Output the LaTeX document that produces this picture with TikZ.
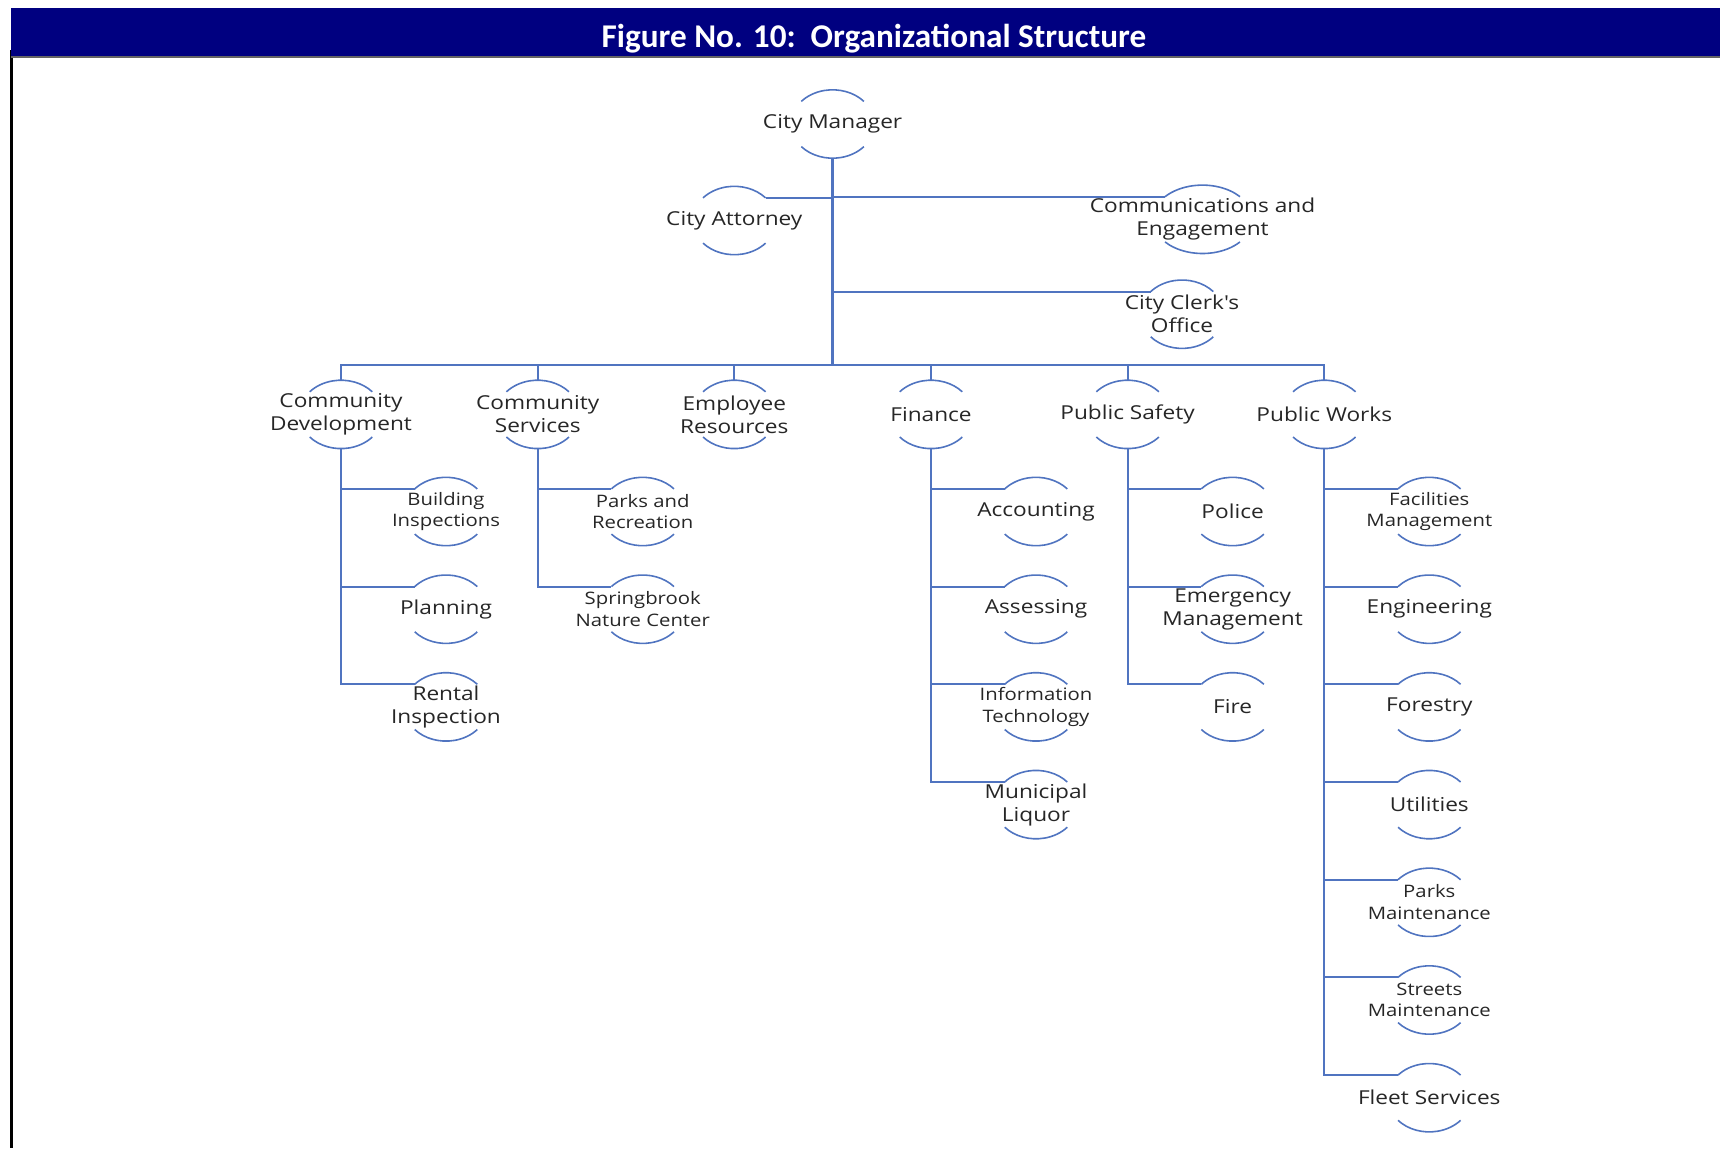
\documentclass[tikz,border=0pt]{standalone}
\usepackage{fontspec}
\setmainfont{Open Sans}[FakeStretch=1.18, Ligatures=TeXOff]
\newfontfamily\titlefont{Carlito}
\definecolor{navybar}{RGB}{0,0,128}
\definecolor{lineblue}{RGB}{80,116,192}
\definecolor{txtgray}{RGB}{38,38,38}
\definecolor{barshadow}{RGB}{100,100,100}
\tikzset{
  lbl/.style={inner sep=0pt, align=center, text=txtgray, font=\fontsize{9.6}{11.5}\selectfont},
  small/.style={font=\fontsize{8.6}{10.8}\selectfont},
  normal/.style={},
  arcline/.style={draw=lineblue, line width=0.8pt},
  conn/.style={draw=lineblue, line width=1pt},
  trunk/.style={draw=lineblue, line width=1.4pt},
  titletext/.style={inner sep=0pt, text=white, font=\titlefont\bfseries\fontsize{16.6}{19}\selectfont},
}
% #1 x radius, #2 name, #3 style, #4 x, #5 y, #6 text
\newcommand\orgnode[6][41.7]{%
  \node[lbl,#3] (#2) at (#4,#5) {#6};
  \coordinate (#2-c) at (#4,#5);
  \coordinate (#2-top) at ([shift={(90:#1 and 34.2)}]#2-c);
  \coordinate (#2-bot) at ([shift={(270:#1 and 34.2)}]#2-c);
  \coordinate (#2-tl) at ([shift={(138.6:#1 and 34.2)}]#2-c);
  \coordinate (#2-tr) at ([shift={(41.4:#1 and 34.2)}]#2-c);
  \coordinate (#2-bl) at ([shift={(221.4:#1 and 34.2)}]#2-c);
  \draw[arcline] (#2-tr) arc[start angle=41.4, end angle=138.6, x radius=#1, y radius=34.2];
  \draw[arcline] (#2-bl) arc[start angle=221.4, end angle=318.6, x radius=#1, y radius=34.2];
}
\begin{document}
\begin{tikzpicture}[x=0.5pt,y=0.5pt]
\useasboundingbox (0,0) rectangle (1720,-1148);
% frame and banner
\fill[black] (10,-50) rectangle (12.5,-1148);
\fill[navybar] (11,-8) rectangle (1720,-56);
\fill[barshadow] (11,-56) rectangle (1720,-57.5);
\node[titletext, anchor=base] (title) at (874,-47.5) {Figure No. 10:\hspace{0.45em}Organizational Structure};

% top levels
\orgnode{cm}{normal}{832.6}{-124}{City Manager}
\orgnode{ca}{normal}{734.3}{-220.5}{City Attorney}
\orgnode[50]{ce}{normal}{1202.5}{-219.3}{Communications and\\Engagement}
\orgnode{cc}{normal}{1182}{-314.2}{City Clerk's\\Office}

\orgnode{cd}{normal}{341}{-414.4}{Community\\Development}
\orgnode{cs}{normal}{537.7}{-414.4}{Community\\Services}
\orgnode{er}{normal}{734.3}{-414.4}{Employee\\Resources}
\orgnode{fi}{normal}{931}{-414.4}{Finance}
\orgnode{ps}{normal}{1127.6}{-414.4}{Public Safety}
\orgnode{pw}{normal}{1324.3}{-414.4}{Public Works}

% Community Development
\orgnode{bi}{small}{446}{-511.5}{Building\\Inspections}
\orgnode{pl}{normal}{446}{-609.2}{Planning}
\orgnode{ri}{normal}{446}{-706.9}{Rental\\Inspection}
% Community Services
\orgnode{pr}{small}{642.7}{-511.5}{Parks and\\Recreation}
\orgnode{sn}{small}{642.7}{-609.2}{Springbrook\\Nature Center}
% Finance
\orgnode{ac}{normal}{1036}{-511.5}{Accounting}
\orgnode{as}{normal}{1036}{-609.2}{Assessing}
\orgnode{it}{small}{1036}{-706.9}{Information\\Technology}
\orgnode{ml}{normal}{1036}{-804.6}{Municipal\\Liquor}
% Public Safety
\orgnode{po}{normal}{1232.6}{-511.5}{Police}
\orgnode{em}{normal}{1232.6}{-609.2}{Emergency\\Management}
\orgnode{fr}{normal}{1232.6}{-706.9}{Fire}
% Public Works
\orgnode{fm}{small}{1429.3}{-511.5}{Facilities\\Management}
\orgnode{en}{normal}{1429.3}{-609.2}{Engineering}
\orgnode{fo}{normal}{1429.3}{-706.9}{Forestry}
\orgnode{ut}{normal}{1429.3}{-804.6}{Utilities}
\orgnode{pm}{small}{1429.3}{-902.3}{Parks\\Maintenance}
\orgnode{sm}{small}{1429.3}{-1000}{Streets\\Maintenance}
\orgnode{fs}{normal}{1429.3}{-1097.7}{Fleet Services}

% connectors
\coordinate (bus) at (832.6,-365.3);
\draw[conn] (cm-bot) |- (ca-tr);
\draw[conn] (cm-bot) |- (ce-tl);
\draw[conn] (cm-bot) |- (cc-tl);
\foreach \n in {cd,cs,er,fi,ps,pw} \draw[conn] (bus) -| (\n-top);
\draw[trunk] (cm-bot) -- (bus);

\foreach \n in {bi,pl,ri} \draw[conn] (cd-bot) |- (\n-tl);
\foreach \n in {pr,sn} \draw[conn] (cs-bot) |- (\n-tl);
\foreach \n in {ac,as,it,ml} \draw[conn] (fi-bot) |- (\n-tl);
\foreach \n in {po,em,fr} \draw[conn] (ps-bot) |- (\n-tl);
\foreach \n in {fm,en,fo,ut,pm,sm,fs} \draw[conn] (pw-bot) |- (\n-tl);
\end{tikzpicture}
\end{document}
